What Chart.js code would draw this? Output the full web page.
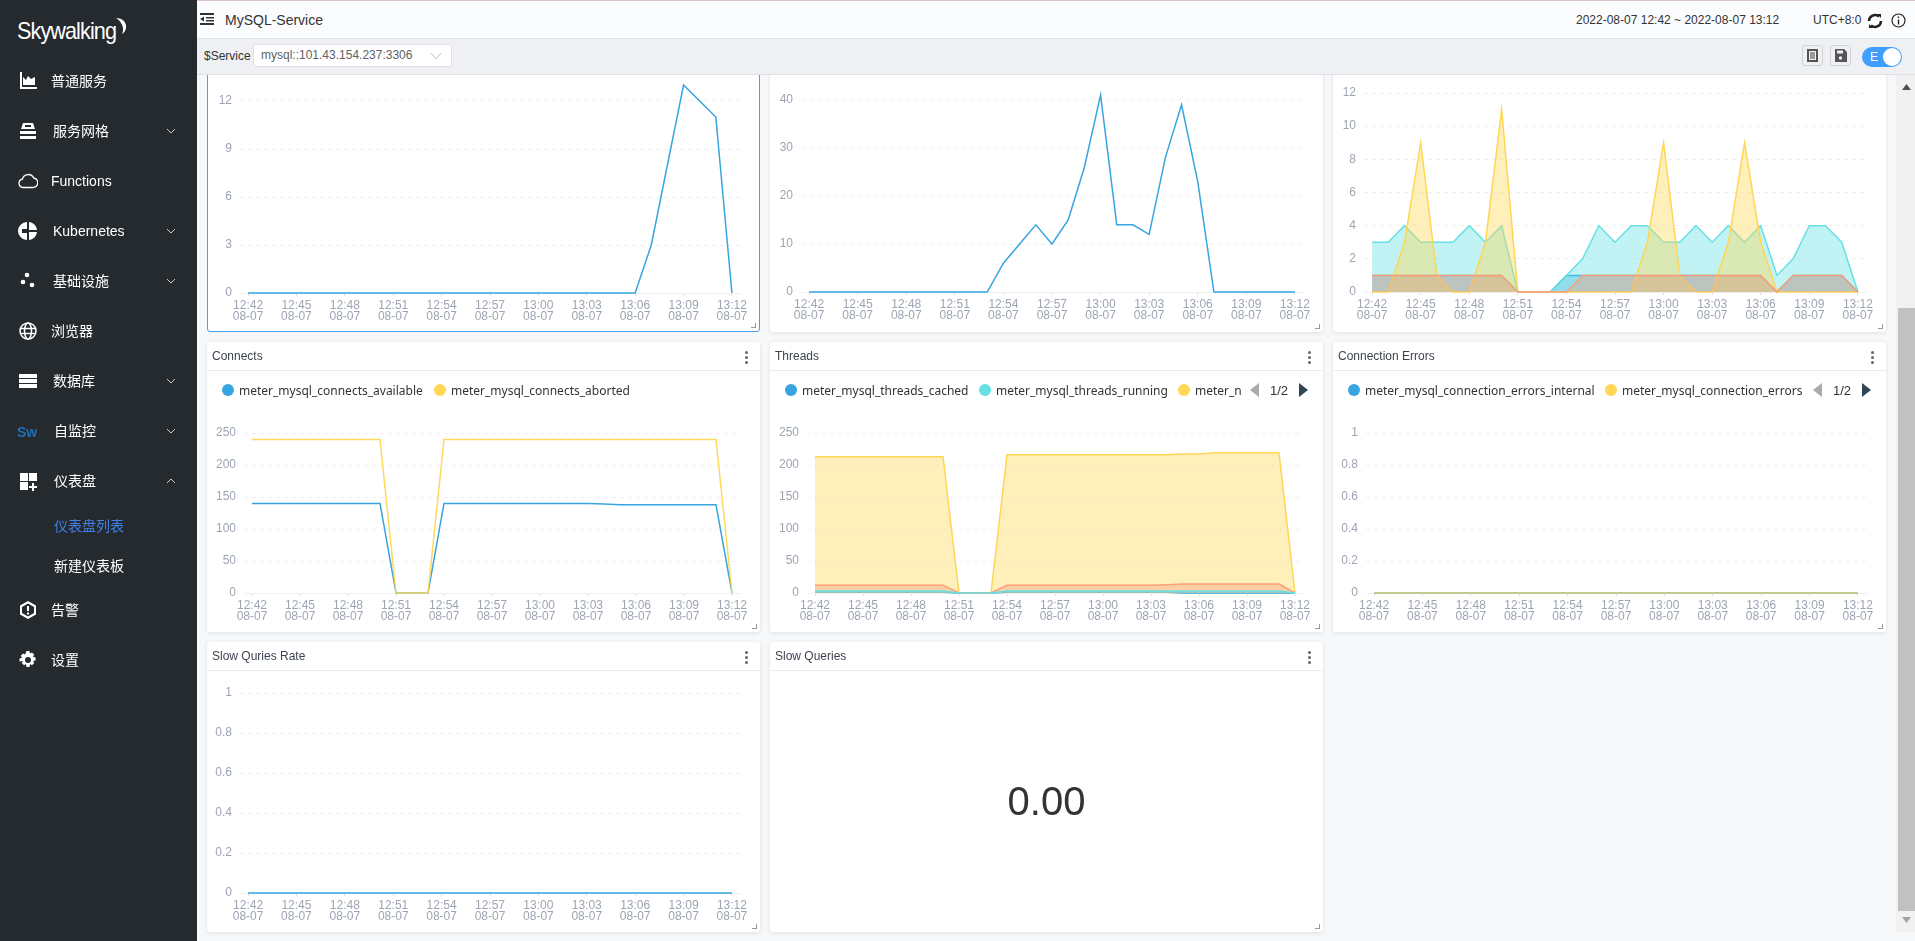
<!DOCTYPE html>
<html>
<head>
<meta charset="utf-8">
<title>MySQL-Service</title>
<script src="https://cdn.jsdelivr.net/npm/chart.js@4/dist/chart.umd.js"></script>
<style>
* { box-sizing: border-box; }
html, body { margin: 0; width: 1915px; height: 941px; overflow: hidden; background: #f7f8fa; font-family: 'Liberation Sans', 'Noto Sans CJK SC', sans-serif; }
#sidebar { position: absolute; left: 0; top: 0; width: 197px; height: 941px; background: #252a2f; z-index: 5; color: #fff; font-size: 14px; }
#sidebar .logo { position: absolute; left: 17px; top: 17px; font-size: 24px; letter-spacing: -1px; transform: scaleX(.9); transform-origin: left; }
#sidebar .moon { position: absolute; left: 113px; top: 17px; width: 15px; height: 18px; }
#sidebar .item { position: absolute; left: 0; width: 197px; height: 20px; line-height: 20px; }
#sidebar .item span { position: absolute; white-space: nowrap; }
#sidebar .item svg { position: absolute; left: 18px; top: 0; width: 20px; height: 20px; }
#sidebar .item .chev { left: 166px; top: 5px; width: 10px; height: 10px; }
#topbar { position: absolute; left: 197px; top: 0; width: 1718px; height: 39px; background: #fbfcfd; border-top: 1px solid #d9c4c6; border-bottom: 1px solid #dfe1e6; z-index: 4; font-size: 12px; color: #333; }
#topbar span { position: absolute; white-space: nowrap; }
#toolbar { position: absolute; left: 197px; top: 39px; width: 1718px; height: 36px; background: #eff0f4; border-bottom: 1px solid #dfe1e6; z-index: 4; font-size: 12px; color: #333; }
#toolbar .label { position: absolute; left: 7px; top: 10px; }
#toolbar .select { position: absolute; left: 56px; top: 5px; width: 199px; height: 23px; background: #fff; border: 1px solid #dcdfe6; border-radius: 3px; color: #606266; line-height: 21px; padding-left: 7px; }
#toolbar .select svg { position: absolute; right: 10px; top: 7px; width: 10px; height: 8px; }
#toolbar .btn { position: absolute; top: 6px; width: 21px; height: 21px; border: 1px solid #cfd1d6; border-radius: 3px; background: #f0f1f3; }
#toolbar .btn svg { position: absolute; left: 3px; top: 3px; width: 13px; height: 13px; }
#toolbar .toggle { position: absolute; left: 1665px; top: 8px; width: 40px; height: 20px; border-radius: 10px; background: #409eff; color: #fff; line-height: 20px; padding-left: 8px; }
#toolbar .toggle i { position: absolute; right: 1px; top: 1px; width: 18px; height: 18px; border-radius: 9px; background: #fff; }
#scroll { position: absolute; left: 1896px; top: 75px; width: 19px; height: 857px; background: #f1f1f1; z-index: 3; }
#scroll .thumb { position: absolute; left: 2px; top: 233px; width: 17px; height: 603px; background: #c1c1c1; }
#scroll svg { position: absolute; left: 6px; width: 9px; height: 6px; }
.card { position: absolute; background: #fff; border-radius: 3px; box-shadow: 0 1px 4px rgba(0,0,0,.1); }
.card.selected { border: 1px solid #4a9ff0; box-shadow: none; }
.card canvas { position: absolute; left: 0; top: 0; }
.card .head { position: absolute; left: 0; top: 0; right: 0; height: 29px; border-bottom: 1px solid #eaecef; font-size: 12px; color: #3d444f; line-height: 28px; padding-left: 5px; }
.card .dots { position: absolute; right: 12px; top: 9px; width: 3px; height: 13px; }
.card .dots i { display: block; width: 3px; height: 3px; border-radius: 2px; background: #666; margin-bottom: 2px; }
.card .corner { position: absolute; right: 3px; bottom: 3px; width: 5px; height: 5px; border-right: 1px solid #999; border-bottom: 1px solid #999; }
.legend-dot { position: absolute; width: 12px; height: 12px; border-radius: 6px; }
.legend-text { position: absolute; font-family: 'Noto Sans', sans-serif; font-size: 12px; line-height: 14px; color: #333; white-space: nowrap; }
.pager { position: absolute; font-size: 13px; color: #333; white-space: nowrap; }
.arrow { position: absolute; width: 0; height: 0; border-top: 7px solid transparent; border-bottom: 7px solid transparent; }
.big { position: absolute; left: 0; right: 0; text-align: center; font-size: 40px; color: #333; }
</style>
</head>
<body>
<div id="sidebar">
  <div class="logo">Skywalking</div>
  <svg class="moon" viewBox="0 0 15 18"><path d="M3 1c6 0 11 4 10 10-.5 3-2 5-4 6 2-4 1-8-1-11C7 4 5 2 3 1z" fill="#fff"/></svg>
</div>
<div id="topbar">
  <svg style="position:absolute;left:3px;top:11px" width="14" height="14" viewBox="0 0 14 14"><path d="M0 1h14v2H0zM6 5h8v1.500H6zM6 8h8v1.500H6zM0 11h14v2H0zM4 4.500v5L0 7z" fill="#333"/></svg>
  <span style="left:28px;top:11px;font-size:14px">MySQL-Service</span>
  <span style="left:1379px;top:12px">2022-08-07 12:42 ~ 2022-08-07 13:12</span>
  <span style="left:1616px;top:12px">UTC+8:0</span>
  <svg style="position:absolute;left:1670px;top:12px" width="16" height="16" viewBox="0 0 16 16"><path d="M2 8a6 6 0 0 1 10-4.400M14 8a6 6 0 0 1-10 4.400" fill="none" stroke="#222" stroke-width="2.500"/><path d="M10 1l4 0 0 4zM6 15l-4 0 0-4z" fill="#222"/></svg>
  <svg style="position:absolute;left:1694px;top:12px" width="15" height="15" viewBox="0 0 15 15"><circle cx="7.500" cy="7.500" r="6.500" fill="none" stroke="#222" stroke-width="1.200"/><path d="M6.800 6.500h1.400v5H6.800zM6.800 3.500h1.400v1.500H6.800z" fill="#222"/></svg>
</div>
<div id="toolbar">
  <span class="label">$Service</span>
  <div class="select">mysql::101.43.154.237:3306<svg viewBox="0 0 10 8"><path d="M0 1l5 6 5-6" fill="none" stroke="#c0c4cc"/></svg></div>
  <div class="btn" style="left:1605px"><svg viewBox="0 0 13 13"><path d="M1 0h11v13H1zM3 2v9h7V2z" fill="#555"/><path d="M4 3h5v7H4z" fill="#999"/></svg></div>
  <div class="btn" style="left:1633px"><svg viewBox="0 0 13 13"><path d="M1 0h9l3 3v10H1zM3 1.500v3h6v-3z" fill="#555"/><circle cx="6.500" cy="9" r="1.700" fill="#eee"/></svg></div>
  <div class="toggle">E<i></i></div>
</div>
<div id="scroll">
  <svg style="top:9px" viewBox="0 0 9 6"><path d="M0 6l4.500-6L9 6z" fill="#505050"/></svg>
  <div class="thumb"></div>
  <svg style="top:842px" viewBox="0 0 9 6"><path d="M0 0l4.500 6L9 0z" fill="#a3a3a3"/></svg>
</div>
<div id="cards"></div>

<script>
// x axis, one point per minute
const minutes = ['12:42','12:43','12:44','12:45','12:46','12:47','12:48','12:49','12:50','12:51','12:52',
    '12:53','12:54','12:55','12:56','12:57','12:58','12:59','13:00','13:01','13:02',
    '13:03','13:04','13:05','13:06','13:07','13:08','13:09','13:10','13:11','13:12'];
const dateLabel = '08-07';
const tickEvery = 3;

// top row
const panel1Values = [0,0,0,0,0,0,0,0,0,0,0,0,0,0,0,0,0,0,0,0,0,0,0,0,0,3,8,13,12,11,0];
const panel2Values = [0,0,0,0,0,0,0,0,0,0,0,0,6,10,14,10,15,26,41,14,14,12,28,39,23,0,0,0,0,0,0];
const panel3Blue   = [1,1,1,1,1,1,1,1,1,0,0,0,1,1,1,1,1,1,1,1,1,1,1,1,1,0,1,1,1,1,0];
const panel3Cyan   = [3,3,4,3,3,3,4,3,4,0,0,0,1,2,4,3,4,4,3,3,4,3,4,3,4,1,2,4,4,3,0];
const panel3Yellow = [0,0,3,9,1,0,0,3,11,0,0,0,0,0,0,0,0,3,9,1,0,0,3,9,3,0,0,0,0,0,0];
const panel3Orange = [1,1,1,1,1,1,1,1,1,0,0,0,0,1,1,1,1,1,1,1,1,1,1,1,1,0,1,1,1,1,0];

// connects
const connectsNames = ['meter_mysql_connects_available','meter_mysql_connects_aborted'];
const connectsAvailable = [140,140,140,140,140,140,140,140,140,0,0,0,140,140,140,140,140,140,140,140,140,140,139,138,138,138,138,138,138,138,0];
const connectsAborted   = [240,240,240,240,240,240,240,240,240,0,0,0,240,240,240,240,240,240,240,240,240,240,240,240,240,240,240,240,240,240,0];

// threads
const threadsNames = ['meter_mysql_threads_cached','meter_mysql_threads_running','meter_n'];
const threadsCached    = [1,1,1,1,1,1,1,1,1,0,0,0,1,1,1,1,1,1,1,1,1,1,1,0,0,0,0,0,0,0,0];
const threadsRunning   = [3,3,3,3,3,3,3,3,3,0,0,0,3,3,3,3,3,3,3,3,3,3,3,3,3,3,3,3,3,3,0];
const threadsConnected = [213,213,213,213,213,213,213,213,213,0,0,0,216,216,216,216,216,216,216,216,216,216,216,217,217,219,219,219,219,219,0];
const threadsCreated   = [12,12,12,12,12,12,12,12,12,0,0,0,12,12,12,12,12,12,12,12,12,12,13,14,14,14,14,14,14,14,0];

// connection errors
const errorNames = ['meter_mysql_connection_errors_internal','meter_mysql_connection_errors'];
const errorsInternal = [0,0,0,0,0,0,0,0,0,0,0,0,0,0,0,0,0,0,0,0,0,0,0,0,0,0,0,0,0,0,0];
const errorsMax      = [0,0,0,0,0,0,0,0,0,0,0,0,0,0,0,0,0,0,0,0,0,0,0,0,0,0,0,0,0,0,0];

// slow queries
const slowRate = [0,0,0,0,0,0,0,0,0,0,0,0,0,0,0,0,0,0,0,0,0,0,0,0,0,0,0,0,0,0,0];
const slowQueries = '0.00';

const menuItems = [
    { y: 81,  x: 51, text: '普通服务', icon: '<path d="M2 1h2v15h15v2H2z"/><path d="M5 14V6l3 3 2-4 3 3 4-2v8z"/>' },
    { y: 131, x: 53, text: '服务网格', chev: 'down', icon: '<path d="M5 2h10l2 6H3zM7 4v2h6V4zM2 10h16v3H2zM2 15h16v3H2z" fill-rule="evenodd"/>' },
    { y: 181, x: 51, text: 'Functions', icon: '<path d="M5 16.500a4.200 4.200 0 0 1-.6-8.300 6 6 0 0 1 11.300-1.200 4.800 4.800 0 0 1-.2 9.500z" fill="none" stroke="#fff" stroke-width="1.300"/>' },
    { y: 231, x: 53, text: 'Kubernetes', chev: 'down', icon: '<path d="M9 1v7H4v4h5v7a9 9 0 0 1 0-18zM11 1a9 9 0 0 1 8 8h-8zM11 11h8a9 9 0 0 1-8 8z"/>' },
    { y: 281, x: 53, text: '基础设施', chev: 'down', icon: '<circle cx="9" cy="4" r="2.300"/><circle cx="5" cy="11" r="2.300"/><circle cx="14" cy="14" r="2.300"/>' },
    { y: 331, x: 51, text: '浏览器', icon: '<g fill="none" stroke="#fff" stroke-width="1.500"><circle cx="10" cy="10" r="8"/><ellipse cx="10" cy="10" rx="3.500" ry="8"/><path d="M2 7.500h16M2 12.500h16"/></g>' },
    { y: 381, x: 53, text: '数据库', chev: 'down', icon: '<path d="M1 3h18v4H1zM1 8h18v4H1zM1 13h18v4H1z"/>' },
    { y: 431, x: 54, text: '自监控', chev: 'down', sw: true },
    { y: 481, x: 54, text: '仪表盘', chev: 'up', icon: '<path d="M2 2h8v8H2zM11 2h8v8h-8zM2 11h8v8H2zM14 12h2v3h3v2h-3v3h-2v-3h-3v-2h3z"/>' },
    { y: 526, x: 54, text: '仪表盘列表', color: '#3f7fe8' },
    { y: 566, x: 54, text: '新建仪表板' },
    { y: 610, x: 51, text: '告警', icon: '<path d="M10 1l8 4.500v9L10 19l-8-4.500v-9zM10 3.500L4 7v6l6 3.500 6-3.500V7z" fill-rule="evenodd"/><path d="M9 6h2v5H9zM9 12.500h2v2H9z"/>' },
    { y: 660, x: 51, text: '设置', icon: '<path fill-rule="evenodd" d="M8.500 1h3l.5 2.500 2-1 2.200 2.200-1.200 2 2.500.7v3l-2.500.6 1.200 2.100-2.200 2.200-2-1.200-.5 2.900h-3l-.5-2.900-2 1.200-2.200-2.200 1.200-2.100L1.500 11.400v-3l2.500-.7-1.200-2L5 3.500l2 1zM10 7a3 3 0 1 0 0 6 3 3 0 0 0 0-6z"/>' }
];

const BLUE = '#36a5e0', CYAN = '#66e0e3', YELLOW = '#ffd655', ORANGE = '#fb9f7a';

function alpha(hex, a) {
    const n = parseInt(hex.slice(1), 16);
    return `rgba(${n >> 16},${(n >> 8) & 255},${n & 255},${a})`;
}

function buildSidebar() {
    const side = document.getElementById('sidebar');
    menuItems.forEach(m => {
        const el = document.createElement('div');
        el.className = 'item';
        el.style.top = (m.y - 10) + 'px';
        let html = `<span style="left:${m.x}px;color:${m.color || '#fff'}">${m.text}</span>`;
        if (m.icon) html += `<svg viewBox="0 0 20 20" fill="#fff">${m.icon}</svg>`;
        if (m.sw) html += `<span style="left:17px;top:1px;color:#1f6fb5;font-weight:bold;font-size:14px">Sw</span>`;
        if (m.chev) {
            const d = m.chev === 'down' ? 'M1 3l4 4 4-4' : 'M1 7l4-4 4 4';
            html += `<svg class="chev" viewBox="0 0 10 10"><path d="${d}" fill="none" stroke="#ccc"/></svg>`;
        }
        el.innerHTML = html;
        side.appendChild(el);
    });
}

function addCard(box, title, selected) {
    const card = document.createElement('div');
    card.className = 'card' + (selected ? ' selected' : '');
    card.style.cssText = `left:${box.left}px;top:${box.top}px;width:${box.right - box.left}px;height:${box.bottom - box.top}px`;
    if (title) {
        card.innerHTML = `<div class="head">${title}<div class="dots"><i></i><i></i><i></i></div></div>`;
    }
    card.innerHTML += '<div class="corner"></div>';
    document.getElementById('cards').appendChild(card);
    return card;
}

function addLegend(card, box, names, colors, xs, pager) {
    const mid = 391 - box.top;
    names.forEach((name, i) => {
        const dot = document.createElement('div');
        dot.className = 'legend-dot';
        dot.style.cssText = `left:${xs[i] - box.left - 6}px;top:${mid - 7}px;background:${colors[i]}`;
        const txt = document.createElement('div');
        txt.className = 'legend-text';
        txt.textContent = name;
        txt.style.cssText = `left:${xs[i] - box.left + 11}px;top:${mid - 7}px`;
        card.appendChild(dot);
        card.appendChild(txt);
    });
    if (pager) {
        card.insertAdjacentHTML('beforeend',
            `<div class="arrow" style="left:${pager - box.left - 5}px;top:${mid - 8}px;border-right:9px solid #aaa"></div>` +
            `<div class="pager" style="left:${pager - box.left + 15}px;top:${mid - 8}px">1/2</div>` +
            `<div class="arrow" style="left:${pager - box.left + 44}px;top:${mid - 8}px;border-left:9px solid #2f4554"></div>`);
    }
}

function drawChart(card, box, grid, yMax, yStep, series) {
    const canvas = document.createElement('canvas');
    const width = box.right - box.left, height = box.bottom - box.top;
    canvas.width = width;
    canvas.height = height;
    canvas.style.width = width + 'px';
    canvas.style.height = height + 'px';
    card.insertBefore(canvas, card.firstChild);

    new Chart(canvas.getContext('2d'), {
        type: 'line',
        data: {
            labels: minutes,
            datasets: series.map((s, i) => ({
                label: s.label,
                data: s.data,
                order: series.length - i, // later series paint on top
                borderColor: s.line || s.color,
                backgroundColor: s.fill ? alpha(s.color, 0.4) : 'transparent',
                fill: s.fill ? 'origin' : false,
                borderWidth: 1.5,
                pointRadius: 0,
                tension: 0,
                clip: false
            }))
        },
        options: {
            responsive: false,
            animation: false,
            devicePixelRatio: 1,
            layout: { padding: { top: grid.top - box.top, right: box.right - grid.right, left: 0, bottom: 0 } },
            plugins: { legend: { display: false }, tooltip: { enabled: false } },
            scales: {
                x: {
                    offset: true,
                    afterFit: scale => { scale.height = box.bottom - grid.bottom; },
                    grid: { drawOnChartArea: false, tickLength: 3, tickColor: '#dcdfe6', offset: false },
                    border: { color: '#eef0f2' },
                    ticks: {
                        autoSkip: false,
                        maxRotation: 0,
                        padding: 4,
                        color: '#9da5b2',
                        font: { family: "'Liberation Sans', sans-serif", size: 12, lineHeight: 0.95 },
                        callback: (v, i) => i % tickEvery === 0 ? [minutes[i], dateLabel] : null
                    }
                },
                y: {
                    min: 0,
                    max: yMax,
                    afterFit: scale => { scale.width = grid.left - box.left; },
                    grid: { color: '#eeeff1', drawTicks: false },
                    border: { display: false, dash: [4, 4] },
                    ticks: {
                        stepSize: yStep,
                        padding: 8,
                        color: '#9da5b2',
                        font: { family: "'Liberation Sans', sans-serif", size: 12 },
                        callback: v => String(+v.toFixed(2))
                    }
                }
            }
        }
    });
}

function init() {
    buildSidebar();

    // top row is scrolled under the header
    let box = { left: 207, right: 760, top: 20, bottom: 332 };
    let card = addCard(box, '', true);
    drawChart(card, box, { left: 239, right: 739, top: 52, bottom: 292 }, 15, 3, [
        { label: 'panel1', data: panel1Values, color: BLUE }
    ]);

    box = { left: 770, right: 1323, top: 20, bottom: 332 };
    card = addCard(box, '');
    drawChart(card, box, { left: 801, right: 1303, top: 52, bottom: 292 }, 50, 10, [
        { label: 'panel2', data: panel2Values, color: BLUE }
    ]);

    box = { left: 1333, right: 1886, top: 20, bottom: 332 };
    card = addCard(box, '');
    drawChart(card, box, { left: 1364, right: 1866, top: 93, bottom: 292 }, 12, 2, [
        { label: 'blue', data: panel3Blue, color: BLUE, fill: true },
        { label: 'cyan', data: panel3Cyan, color: CYAN, fill: true },
        { label: 'yellow', data: panel3Yellow, color: YELLOW, fill: true },
        { label: 'orange', data: panel3Orange, color: ORANGE, fill: true }
    ]);

    box = { left: 207, right: 760, top: 342, bottom: 632 };
    card = addCard(box, 'Connects');
    addLegend(card, box, connectsNames, [BLUE, YELLOW], [228, 440]);
    drawChart(card, box, { left: 244, right: 740, top: 433, bottom: 593 }, 250, 50, [
        { label: connectsNames[0], data: connectsAvailable, color: BLUE },
        { label: connectsNames[1], data: connectsAborted, color: YELLOW, line: alpha(YELLOW, 0.95) }
    ]);

    box = { left: 770, right: 1323, top: 342, bottom: 632 };
    card = addCard(box, 'Threads');
    addLegend(card, box, threadsNames, [BLUE, CYAN, YELLOW], [791, 985, 1184], 1255);
    drawChart(card, box, { left: 807, right: 1303, top: 433, bottom: 593 }, 250, 50, [
        { label: threadsNames[0], data: threadsCached, color: BLUE, fill: true },
        { label: threadsNames[2], data: threadsConnected, color: YELLOW, fill: true },
        { label: 'created', data: threadsCreated, color: ORANGE, fill: true },
        { label: threadsNames[1], data: threadsRunning, color: CYAN, fill: true }
    ]);

    box = { left: 1333, right: 1886, top: 342, bottom: 632 };
    card = addCard(box, 'Connection Errors');
    addLegend(card, box, errorNames, [BLUE, YELLOW], [1354, 1611], 1818);
    drawChart(card, box, { left: 1366, right: 1866, top: 433, bottom: 593 }, 1, 0.2, [
        { label: errorNames[0], data: errorsInternal, color: BLUE },
        { label: errorNames[1], data: errorsMax, color: YELLOW, line: alpha(YELLOW, 0.8) }
    ]);

    box = { left: 207, right: 760, top: 642, bottom: 932 };
    card = addCard(box, 'Slow Quries Rate');
    drawChart(card, box, { left: 240, right: 740, top: 693, bottom: 893 }, 1, 0.2, [
        { label: 'rate', data: slowRate, color: BLUE }
    ]);

    box = { left: 770, right: 1323, top: 642, bottom: 932 };
    card = addCard(box, 'Slow Queries');
    card.insertAdjacentHTML('beforeend', `<div class="big" style="top:137px">${slowQueries}</div>`);
}

document.addEventListener('DOMContentLoaded', init);
</script>
</body>
</html>
